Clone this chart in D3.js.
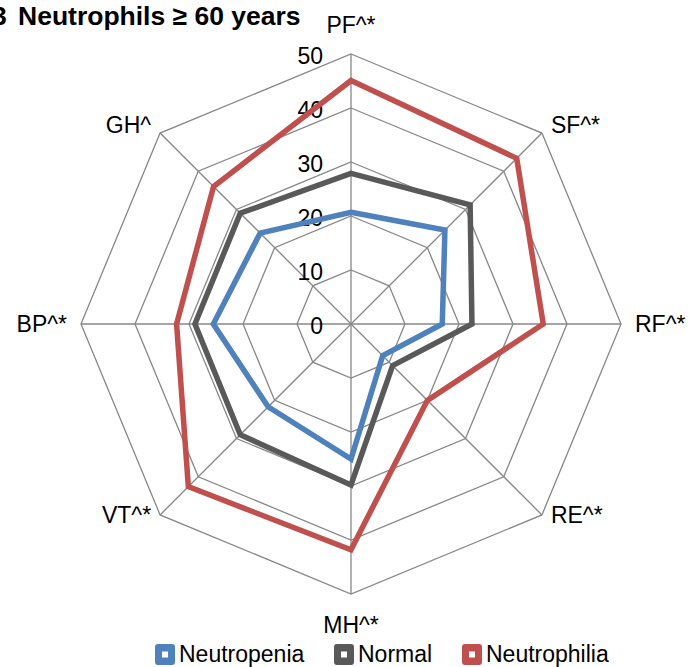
<!DOCTYPE html>
<html>
<head>
<meta charset="utf-8">
<script src="https://cdn.jsdelivr.net/npm/d3@7"></script>
<style>
    body { margin: 0; background: #fff; }
    text { font-family: "Liberation Sans", Arial, sans-serif; fill: #000; }
</style>
</head>
<body>
<div id="chart"></div>
<script>
// data
var categories = ["PF^*", "SF^*", "RF^*", "RE^*", "MH^*", "VT^*", "BP^*", "GH^"];
var neutropenia = [20.7, 24.6, 16.9, 8.3, 25.0, 21.7, 25.5, 23.8];
var normal = [27.9, 31.2, 22.4, 10.9, 29.8, 29.0, 28.9, 29.0];
var neutrophilia = [45.1, 43.4, 35.6, 20.0, 41.8, 42.6, 32.3, 36.0];
var ticks = [0, 10, 20, 30, 40, 50];
var seriesNames = ["Neutropenia", "Normal", "Neutrophilia"];
var titleParts = ["3", "Neutrophils \u2265 60 years"];

function init() {
    var w = 689;
    var h = 667;
    var cx = 351, cy = 324;
    var R = 270;
    var colors = ["#4f81bd", "#595959", "#c0504d"];

    var svg = d3.select("#chart")
        .append("svg")
        .attr("width", w)
        .attr("height", h);

    var rScale = d3.scaleLinear()
        .domain([0, 50])
        .range([0, R]);

    var angle = d3.scalePoint()
        .domain(categories)
        .range([0, 2 * Math.PI * (categories.length - 1) / categories.length]);

    var g = svg.append("g")
        .attr("transform", "translate(" + cx + "," + cy + ")");

    // grid octagons
    var ring = d3.lineRadial()
        .angle(function (d) { return angle(d); })
        .curve(d3.curveLinearClosed);

    ticks.slice(1).forEach(function (t) {
        g.append("path")
            .attr("d", ring.radius(rScale(t))(categories))
            .attr("fill", "none")
            .attr("stroke", "#878787")
            .attr("stroke-width", 1.3);
    });

    // spokes
    g.selectAll(".spoke")
        .data(categories)
        .enter()
        .append("line")
        .attr("class", "spoke")
        .attr("x1", 0).attr("y1", 0)
        .attr("x2", function (d) { return rScale(50) * Math.sin(angle(d)); })
        .attr("y2", function (d) { return -rScale(50) * Math.cos(angle(d)); })
        .attr("stroke", "#878787")
        .attr("stroke-width", 1.3);

    // tick labels
    g.selectAll(".tick-label")
        .data(ticks)
        .enter()
        .append("text")
        .attr("class", "tick-label")
        .attr("x", -28)
        .attr("y", function (d) { return -rScale(d) + 2; })
        .attr("dy", "0.35em")
        .attr("text-anchor", "end")
        .style("font-size", "23px")
        .text(function (d) { return d; });

    // series
    var allSeries = [neutropenia, normal, neutrophilia];
    var line = d3.lineRadial()
        .angle(function (d, i) { return angle(categories[i]); })
        .radius(function (d) { return rScale(d); })
        .curve(d3.curveLinearClosed);

    g.selectAll(".series")
        .data(allSeries)
        .enter()
        .append("path")
        .attr("class", "series")
        .attr("d", function (d) { return line(d); })
        .attr("fill", "none")
        .attr("stroke", function (d, i) { return colors[i]; })
        .attr("stroke-width", 5.5)
        .attr("stroke-linejoin", "miter");

    // category labels
    g.selectAll(".cat-label")
        .data(categories)
        .enter()
        .append("text")
        .attr("class", "cat-label")
        .attr("x", function (d) {
            var s = Math.sin(angle(d));
            var vx = R * s;
            if (s > 0.9) return vx + 14;
            if (s < -0.9) return vx - 14;
            if (s > 0.1) return vx + 9;
            if (s < -0.1) return vx - 9;
            return vx;
        })
        .attr("y", function (d) {
            var c = Math.cos(angle(d));
            var vy = -R * c;
            if (c > 0.9) return vy - 29;
            if (c < -0.9) return vy + 31;
            if (c > 0.1) return vy - 8;
            return vy;
        })
        .attr("dy", "0.35em")
        .attr("text-anchor", function (d) {
            var s = Math.sin(angle(d));
            if (s > 0.1) return "start";
            if (s < -0.1) return "end";
            return "middle";
        })
        .style("font-size", "23px")
        .text(function (d) { return d; });

    // title (left edge cut off as in the original)
    var title = svg.append("text")
        .attr("y", 25)
        .style("font-size", "26.5px")
        .style("font-weight", "bold");
    title.append("tspan").attr("x", -8).text(titleParts[0]);
    title.append("tspan").attr("x", 18).text(titleParts[1]);

    // legend
    var legendX = [155, 334, 462];
    var legend = svg.selectAll(".legend")
        .data(seriesNames)
        .enter()
        .append("g")
        .attr("class", "legend")
        .attr("transform", function (d, i) { return "translate(" + legendX[i] + ",644)"; });

    legend.append("rect")
        .attr("width", 20).attr("height", 21)
        .attr("rx", 3)
        .attr("fill", function (d, i) { return colors[i]; });

    legend.append("rect")
        .attr("x", 7).attr("y", 7.5)
        .attr("width", 6).attr("height", 6)
        .attr("fill", "#fff");

    legend.append("text")
        .attr("x", 24)
        .attr("y", 18)
        .style("font-size", "23px")
        .text(function (d) { return d; });
}

window.onload = init;
</script>
</body>
</html>
